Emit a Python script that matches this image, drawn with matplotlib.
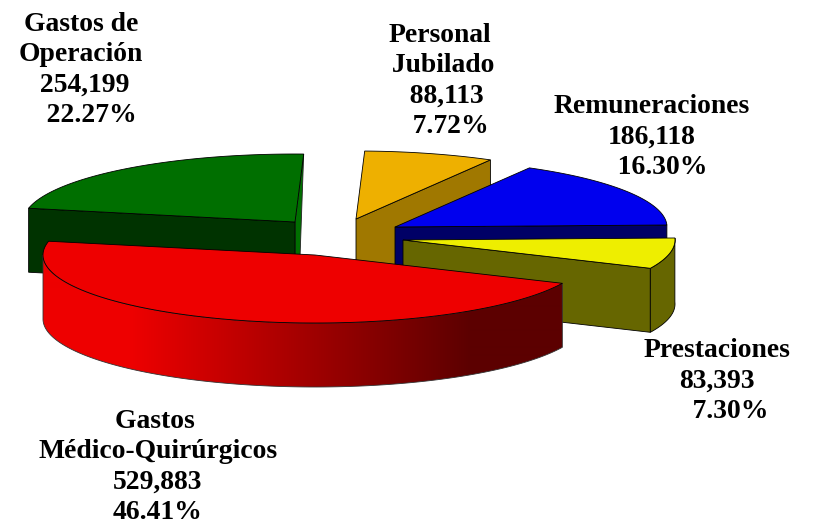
import numpy as np
import matplotlib
matplotlib.use("Agg")
import matplotlib.pyplot as plt
from matplotlib.patches import Polygon

# data, clockwise from the right of the pie
names = ["Prestaciones", "Gastos \nMédico-Quirúrgicos", "Gastos de\nOperación",
         "Personal\n Jubilado", "Remuneraciones"]
values = [83393, 529883, 254199, 88113, 186118]
value_labels = ["83,393", "529,883", " 254,199", "  88,113", "186,118"]
percents = ["    7.30%", "46.41%", "   22.27%", "   7.72%", "   16.30%"]

# style and layout, in image pixels
tops = ["#eeee00", "#ee0000", "#006f00", "#eeb000", "#0000ee"]
sides = ["#666600", "#ee0000", "#003300", "#a07800", "#000066"]
apexes = [(403, 240), (315, 255), (295, 222), (356, 219), (395, 227)]
front_face = ["end", None, "start", "end", "end"]
label_pos = [(717, 381), (158, 467), (81, 70), (440, 81), (652, 137)]
RX, RY, DEPTH, START = 272.0, 68.0, 64.0, -1.7
LW = 0.6

fig = plt.figure(figsize=(8.13, 5.25), dpi=100)
ax = fig.add_axes([0, 0, 1, 1])
ax.axis("off")

fracs = np.array(values) / np.sum(values)
edges = START + 360.0 * np.concatenate([[0], np.cumsum(fracs)])


def pt(apex, deg):
    t = np.radians(deg)
    return np.array([apex[0] + RX * np.cos(t), apex[1] + RY * np.sin(t)])


def arc(apex, d1, d2, step=0.5):
    ds = np.linspace(d1, d2, max(2, int(abs(d2 - d1) / step) + 1))
    t = np.radians(ds)
    return np.column_stack([apex[0] + RX * np.cos(t), apex[1] + RY * np.sin(t)])


order = [2, 3, 4, 0, 1]
zo = 1
for i in order:
    a1, a2 = edges[i], edges[i + 1]
    apex = np.array(apexes[i], float)
    down = np.array([0, DEPTH])
    # the slim lit end face of the green slice
    if i == 2:
        p = pt(apex, a2)
        ax.add_patch(Polygon([p, apex, apex + down, apex + down + [4, 0]],
                             closed=True, fc=tops[i], ec="#222222", lw=LW, zorder=zo))
    # the radial cut face
    if front_face[i]:
        p = pt(apex, a2 if front_face[i] == "end" else a1)
        ax.add_patch(Polygon([apex, p, p + down, apex + down], closed=True,
                             fc=sides[i], ec="black", lw=LW, zorder=zo))
    # the outer rim
    if a1 < 180.0:
        rim = arc(apex, a1, min(a2, 180.0))
        outline = np.vstack([rim, rim[::-1] + down])
        if i == 1:
            shape = Polygon(outline, closed=True, fc="none", ec="none", zorder=zo)
            ax.add_patch(shape)
            xs = np.arange(0, 814)
            shade = (238 + (92 - 238) * np.clip((xs - 130.0) / 340.0, 0, 1)) / 255.0
            grad = np.zeros((1, xs.size, 3))
            grad[0, :, 0] = shade
            im = ax.imshow(grad, extent=(0, 813, 525, 0), aspect="auto",
                           interpolation="bilinear", zorder=zo)
            im.set_clip_path(shape)
            ax.add_patch(Polygon(outline, closed=True, fc="none", ec="#333333",
                                 lw=LW, zorder=zo))
        else:
            ax.add_patch(Polygon(outline, closed=True, fc=sides[i], ec="black",
                                 lw=LW, zorder=zo))
    # the top
    ax.add_patch(Polygon(np.vstack([apex, arc(apex, a1, a2)]), closed=True,
                         fc=tops[i], ec="black", lw=LW, joinstyle="miter", zorder=zo))
    zo += 1

ax.set_xlim(0, 813)
ax.set_ylim(525, 0)

for i in range(len(values)):
    txt = "{}\n{}\n{}".format(names[i], value_labels[i], percents[i])
    ax.text(label_pos[i][0], label_pos[i][1], txt, ha="center", va="center",
            multialignment="center", family="Liberation Serif", weight="bold",
            fontsize=19.9, linespacing=1.27, color="black", zorder=20)

fig.savefig("out.png", dpi=100, facecolor="white")
